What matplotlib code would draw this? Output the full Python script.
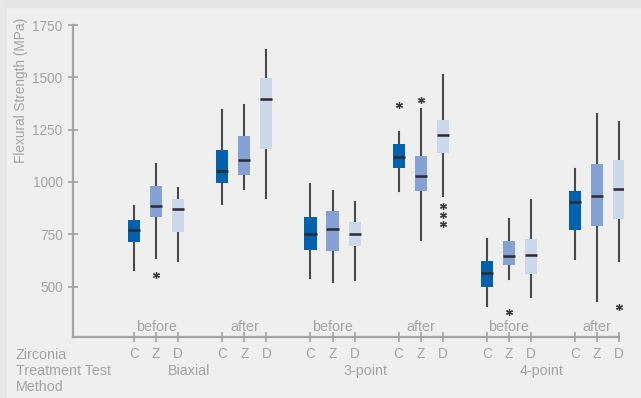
import matplotlib
matplotlib.use("Agg")
import matplotlib.pyplot as plt
from matplotlib.patches import Rectangle

plt.rcParams['font.family'] = ['Liberation Sans', 'DejaVu Sans']

# flexural strength summaries, MPa: whisker low, Q1, median, Q3, whisker high
zirconia = ["C", "Z", "D"]
treatments = ["before", "after", "before", "after", "before", "after"]
methods = ["Biaxial", "3-point", "4-point"]

whislo = [581, 637, 621,   897, 968, 922,
          541, 521, 532,   957, 723, 935,
          407, 538, 450,   630, 431, 620]
q1 = [713, 833, 761,   995, 1033, 1156,
      675, 670, 694,   1065, 957, 1139,
      497, 603, 560,   771, 790, 825]
med = [769, 884, 870,   1053, 1104, 1395,
       750, 774, 750,   1120, 1027, 1223,
       567, 646, 650,   902, 932, 964]
q3 = [817, 979, 917,   1152, 1218, 1498,
      831, 860, 807,   1180, 1123, 1295,
      621, 717, 726,   956, 1085, 1104]
whishi = [884, 1088, 973,   1343, 1370, 1630,
          992, 956, 903,   1241, 1351, 1510,
          725, 822, 913,   1064, 1327, 1285]
outliers = [[], [554], [],   [], [], [],
            [], [], [],      [1370], [1391], [887, 844, 801],
            [], [379], [],   [], [], [402]]

colors = ["#0061AF", "#85A0D3", "#CDD7EC"]
grey = "#A3A3A3"
fs = 9.8

W, H = 641, 398
fig = plt.figure(figsize=(W / 100, H / 100), dpi=100)
fig.patch.set_facecolor("#EFEFEF")
# darker border strips along top and left
fig.patches.append(Rectangle((0, 1 - 7 / H), 1, 7 / H, transform=fig.transFigure,
                             color="#E4E4E4", zorder=0))
fig.patches.append(Rectangle((0, 0), 6 / W, 1, transform=fig.transFigure,
                             color="#E6E6E6", zorder=0))

x0, x1 = -2.77, 22.2
y0, y1 = 259, 1765
px_unit = 22.05
ax = fig.add_axes([73 / W, (H - 337) / H, (x1 - x0) * px_unit / W, (337 - 21.9) / H])
ax.set_facecolor("none")

positions = []
stats = []
for i in range(len(med)):
    g, k = divmod(i, 3)
    positions.append(4 * g + k)
    stats.append(dict(whislo=whislo[i], q1=q1[i], med=med[i], q3=q3[i],
                      whishi=whishi[i], fliers=outliers[i]))

bp = ax.bxp(stats, positions=positions, widths=0.55, patch_artist=True,
            showcaps=False,
            medianprops=dict(color="#2B2B2B", linewidth=1.8),
            whiskerprops=dict(color="#4A4A4A", linewidth=1.5),
            flierprops=dict(marker=(6, 2, 0), markersize=5, markeredgecolor="#3A3A3A",
                            markeredgewidth=0.9, linestyle="none"))
for i, box in enumerate(bp["boxes"]):
    box.set_facecolor(colors[i % 3])
    box.set_edgecolor("none")
    box.set_zorder(2)
for w in bp["whiskers"]:
    w.set_zorder(1)

ax.set_xlim(x0, x1)
ax.set_ylim(y0, y1)
for s in ["top", "right"]:
    ax.spines[s].set_visible(False)
for s in ["left", "bottom"]:
    ax.spines[s].set_color(grey)
    ax.spines[s].set_linewidth(1.6)
ax.spines["left"].set_bounds(y0, 1750)
ax.spines["bottom"].set_bounds(x0, 22)

ax.set_yticks([500, 750, 1000, 1250, 1500, 1750])
ax.set_xticks(positions)
ax.set_xticklabels([zirconia[i % 3] for i in range(len(positions))])
ax.tick_params(axis="both", colors=grey, labelcolor=grey, labelsize=fs,
               direction="inout", length=7, width=1.2)
ax.tick_params(axis="x", pad=4)
ax.tick_params(axis="y", pad=4)
ax.set_ylabel("Flexural Strength (MPa)", color=grey, fontsize=fs)
ax.yaxis.set_label_coords(-0.082, 0.784)

# treatment labels just above the x axis
for g, t in enumerate(treatments):
    ax.text(4 * g + 1, 309, t, ha="center", va="center", color=grey, fontsize=fs + 0.5)

# test method labels under each before/after pair
for m, name in enumerate(methods):
    xm = 8 * m + 2.5
    xf = (73 + (xm - x0) * px_unit) / W
    fig.text(xf, 1 - 371 / H, name, ha="center", va="center", color=grey, fontsize=fs + 0.5)

for j, row in enumerate(["Zirconia", "Treatment Test", "Method"]):
    fig.text(16 / W, 1 - (355 + 16 * j) / H, row, ha="left", va="center",
             color=grey, fontsize=fs + 0.5)

fig.savefig("out.png", dpi=100, facecolor=fig.get_facecolor())
